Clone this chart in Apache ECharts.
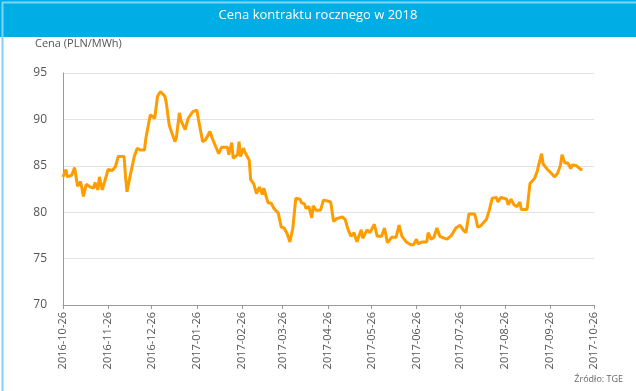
<!DOCTYPE html>
<html><head><meta charset="utf-8">
<style>html,body{margin:0;padding:0;background:#fff;}#c{width:636px;height:391px;}</style>
<script src="https://cdn.jsdelivr.net/npm/echarts@6/dist/echarts.min.js"></script>
</head><body><div id="c"></div>
<script>
const title = 'Cena kontraktu rocznego w 2018';
const yAxisName = 'Cena (PLN/MWh)';
const source = 'Źródło: TGE';
const startDate = '2016-10-26';
const endDate = '2017-10-26';
const yMin = 70, yMax = 95, yStep = 5;

const dates = ['2016-10-26','2016-10-28','2016-10-29','2016-11-01','2016-11-03','2016-11-05','2016-11-07','2016-11-08','2016-11-09','2016-11-11','2016-11-14','2016-11-16','2016-11-17','2016-11-19','2016-11-20','2016-11-22','2016-11-24','2016-11-26','2016-11-29','2016-12-01','2016-12-03','2016-12-07','2016-12-08','2016-12-09','2016-12-11','2016-12-14','2016-12-16','2016-12-18','2016-12-21','2016-12-22','2016-12-25','2016-12-28','2016-12-30','2017-01-01','2017-01-04','2017-01-05','2017-01-07','2017-01-08','2017-01-11','2017-01-12','2017-01-14','2017-01-15','2017-01-18','2017-01-20','2017-01-23','2017-01-26','2017-01-27','2017-01-30','2017-02-01','2017-02-04','2017-02-06','2017-02-09','2017-02-10','2017-02-12','2017-02-16','2017-02-17','2017-02-19','2017-02-20','2017-02-23','2017-02-24','2017-02-25','2017-02-27','2017-02-28','2017-03-03','2017-03-04','2017-03-06','2017-03-08','2017-03-10','2017-03-12','2017-03-13','2017-03-15','2017-03-16','2017-03-18','2017-03-20','2017-03-23','2017-03-25','2017-03-27','2017-03-29','2017-03-31','2017-04-02','2017-04-04','2017-04-07','2017-04-08','2017-04-10','2017-04-11','2017-04-13','2017-04-15','2017-04-16','2017-04-18','2017-04-21','2017-04-23','2017-04-26','2017-04-28','2017-04-30','2017-05-02','2017-05-06','2017-05-08','2017-05-10','2017-05-12','2017-05-14','2017-05-16','2017-05-19','2017-05-20','2017-05-23','2017-05-25','2017-05-28','2017-05-30','2017-06-02','2017-06-04','2017-06-06','2017-06-09','2017-06-12','2017-06-14','2017-06-16','2017-06-19','2017-06-22','2017-06-24','2017-06-26','2017-06-27','2017-06-30','2017-07-03','2017-07-04','2017-07-06','2017-07-08','2017-07-10','2017-07-12','2017-07-15','2017-07-17','2017-07-20','2017-07-23','2017-07-24','2017-07-26','2017-07-28','2017-07-30','2017-08-01','2017-08-05','2017-08-06','2017-08-07','2017-08-09','2017-08-13','2017-08-15','2017-08-17','2017-08-18','2017-08-20','2017-08-21','2017-08-23','2017-08-25','2017-08-27','2017-08-28','2017-08-30','2017-09-01','2017-09-03','2017-09-05','2017-09-06','2017-09-10','2017-09-12','2017-09-13','2017-09-15','2017-09-17','2017-09-18','2017-09-20','2017-09-21','2017-09-24','2017-09-26','2017-09-29','2017-10-01','2017-10-03','2017-10-04','2017-10-06','2017-10-08','2017-10-10','2017-10-11','2017-10-14','2017-10-15','2017-10-17','2017-10-18'];

const prices = [83.8,84.6,83.8,84.0,84.8,82.8,83.3,82.6,81.7,83.0,82.7,82.6,83.2,82.4,83.8,82.4,83.5,84.6,84.5,84.9,86.0,86.0,83.8,82.2,83.8,86.0,86.9,86.7,86.7,88.0,90.5,90.1,92.5,93.0,92.5,91.8,89.4,88.9,87.6,88.1,90.7,89.9,88.9,90.1,90.8,91.0,90.1,87.6,87.8,88.7,87.8,86.7,86.3,87.0,87.0,86.2,87.5,85.8,86.2,87.6,86.0,86.9,86.5,85.6,83.5,83.1,82.0,82.7,81.9,82.6,81.5,81.0,81.0,80.4,79.9,78.4,78.3,77.7,76.8,78.3,81.5,81.4,81.0,80.9,80.4,80.6,79.4,80.7,80.2,80.2,81.3,81.2,81.1,79.0,79.3,79.5,79.2,78.1,77.4,77.8,76.8,78.1,77.2,78.1,77.8,78.7,77.4,77.4,78.3,76.7,77.3,77.3,78.6,77.4,76.8,76.5,76.5,77.1,76.6,76.8,76.8,77.8,77.1,77.3,78.3,77.4,77.2,77.1,77.5,78.3,78.1,78.6,78.1,77.8,79.8,79.8,79.2,78.4,78.5,79.2,80.2,81.5,81.6,81.6,81.1,81.6,81.5,81.4,80.8,81.4,80.8,80.6,81.1,80.3,80.3,83.1,83.0,83.6,84.4,85.1,86.3,85.2,84.6,84.3,83.8,84.2,85.1,86.2,85.3,85.3,84.7,85.1,85.0,85.2,84.6,84.6];

// build full calendar category axis
function fmt(d){const m=d.getUTCMonth()+1, day=d.getUTCDate();return d.getUTCFullYear()+'-'+(m<10?'0':'')+m+'-'+(day<10?'0':'')+day;}
const calendar = [];
for (let t = Date.parse(startDate+'T00:00:00Z'); t <= Date.parse(endDate+'T00:00:00Z'); t += 86400000) calendar.push(fmt(new Date(t)));
const priceMap = {};
dates.forEach((d,i)=>{priceMap[d]=prices[i];});
const seriesData = calendar.map(d => (d in priceMap) ? priceMap[d] : null);
const isTick = (i, v) => v.slice(8) === '26';

const chart = echarts.init(document.getElementById('c'), null, {renderer:'canvas'});
chart.setOption({
  animation:false,
  backgroundColor:'#fff',
  textStyle:{fontFamily:'Open Sans, Noto Sans, sans-serif'},
  graphic:[
    {type:'rect', left:0, top:0, shape:{width:636, height:37}, style:{fill:'#00aee6'}, z:-1},
    {type:'rect', left:0, top:0, shape:{width:635, height:390}, style:{fill:null, stroke:'#7fd3ef', lineWidth:2}, z:10},
    {type:'text', left:'center', top:9, style:{text:title, fill:'#fff', font:'13px "Open Sans", sans-serif'}},
    {type:'text', left:35, top:38, style:{text:yAxisName, fill:'#555', font:'11px "Open Sans", sans-serif'}},
    {type:'text', right:13, top:375, style:{text:source, fill:'#666', font:'9px "Open Sans", sans-serif'}}
  ],
  grid:{left:63, right:42, top:73, bottom:86, containLabel:false},
  xAxis:{
    type:'category', data:calendar, boundaryGap:false,
    axisLine:{lineStyle:{color:'#999', width:1}},
    axisTick:{show:true, interval:isTick, length:4, lineStyle:{color:'#999'}},
    axisLabel:{interval:isTick, rotate:90, color:'#555', fontSize:11, margin:7},
    splitLine:{show:false}
  },
  yAxis:{
    type:'value', min:yMin, max:yMax, interval:yStep,
    axisLine:{show:true, lineStyle:{color:'#999', width:1}},
    axisTick:{show:false},
    axisLabel:{color:'#555', fontSize:12, margin:16},
    splitLine:{lineStyle:{color:'#e3e3e3', width:1}}
  },
  series:[{
    type:'line', data:seriesData, connectNulls:true, showSymbol:false, symbol:'none',
    lineStyle:{color:'#ff9c00', width:3}, itemStyle:{color:'#ff9c00'}
  }]
});
</script></body></html>
